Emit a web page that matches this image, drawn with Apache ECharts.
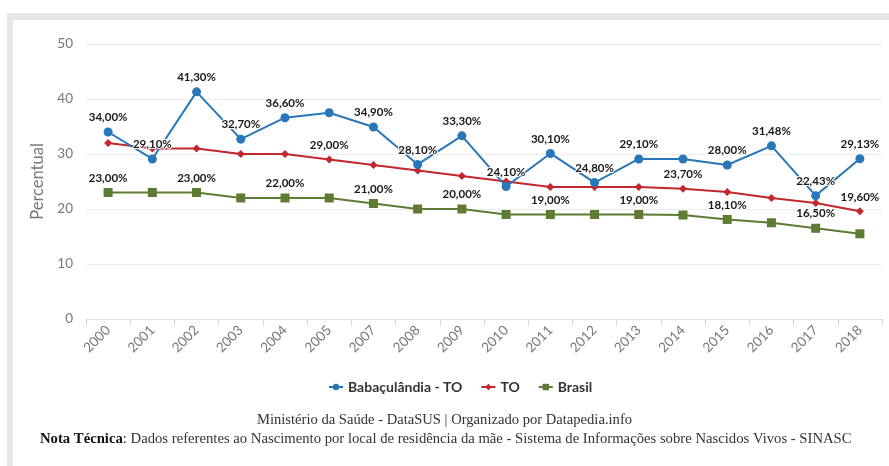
<!DOCTYPE html>
<html>
<head>
<meta charset="utf-8">
<script src="https://cdn.jsdelivr.net/npm/echarts@6/dist/echarts.min.js"></script>
<style>
  html, body { margin: 0; padding: 0; background: #fff; }
  #chart { width: 889px; height: 466px; }
</style>
</head>
<body>
<div id="chart"></div>
<script>
// anos (2006 não aparece no original)
const years = ['2000', '2001', '2002', '2003', '2004', '2005', '2007', '2008', '2009',
  '2010', '2011', '2012', '2013', '2014', '2015', '2016', '2017', '2018']

const babaculandia = [34.0, 29.1, 41.3, 32.7, 36.6, 37.5, 34.9, 28.1, 33.3,
  24.1, 30.1, 24.8, 29.1, 29.1, 28.0, 31.48, 22.43, 29.13]
const tocantins = [32.0, 31.0, 31.0, 30.0, 30.0, 29.0, 28.0, 27.0, 26.0,
  25.0, 24.0, 24.0, 24.0, 23.7, 23.1, 22.0, 21.1, 19.6]
const brasil = [23.0, 23.0, 23.0, 22.0, 22.0, 22.0, 21.0, 20.0, 20.0,
  19.0, 19.0, 19.0, 19.0, 18.9, 18.1, 17.5, 16.5, 15.5]

// índices dos pontos com rótulo visível
const babaLabels = [0, 1, 2, 3, 4, 6, 7, 8, 9, 10, 11, 12, 14, 15, 16, 17]
const toLabels = [5, 13, 17]
const brLabels = [0, 2, 4, 6, 8, 10, 12, 14, 16]

const yTicks = { min: 0, max: 50, interval: 10 }

const FONT = 'Lato, "DejaVu Sans", sans-serif'
const SERIF = '"Liberation Serif", serif'

function fmt(v) {
  return v.toFixed(2).replace('.', ',') + '%'
}

function withLabels(values, shown) {
  return values.map((v, i) => ({
    value: v,
    label: { show: shown.includes(i) }
  }))
}

const labelStyle = {
  position: 'top',
  distance: 4,
  fontFamily: FONT,
  fontSize: 11.5,
  fontWeight: 'bold',
  color: '#1a1a1a',
  textBorderColor: '#fff',
  textBorderWidth: 2,
  formatter: p => fmt(p.value)
}

const chart = echarts.init(document.getElementById('chart'))
chart.setOption({
  animation: false,
  backgroundColor: '#fff',
  textStyle: { fontFamily: FONT },
  grid: { left: 86, right: 7, top: 44, bottom: 147 },
  legend: {
    bottom: 67,
    left: 323,
    itemGap: 18,
    itemWidth: 14,
    itemHeight: 8,
    textStyle: { fontFamily: FONT, fontSize: 14, fontWeight: 'bold', color: '#333' },
    data: ['Babaçulândia - TO', 'TO', 'Brasil']
  },
  xAxis: {
    type: 'category',
    data: years,
    boundaryGap: true,
    axisLine: { lineStyle: { color: '#e0e0e0' } },
    axisTick: { show: true, length: 7, lineStyle: { color: '#d8d8d8' } },
    axisLabel: { rotate: 45, color: '#777', fontSize: 13.5, margin: 9, interval: 0 }
  },
  yAxis: {
    type: 'value',
    min: yTicks.min,
    max: yTicks.max,
    interval: yTicks.interval,
    name: 'Percentual',
    nameLocation: 'middle',
    nameGap: 35,
    nameTextStyle: { color: '#777', fontSize: 16.5 },
    axisLabel: { color: '#777', fontSize: 13.5, margin: 13 },
    splitLine: { lineStyle: { color: '#ececec' } }
  },
  series: [
    {
      name: 'Babaçulândia - TO',
      type: 'line',
      data: withLabels(babaculandia, babaLabels),
      symbol: 'circle',
      symbolSize: 9,
      color: '#2877b8',
      lineStyle: { width: 2 },
      label: labelStyle,
      z: 3
    },
    {
      name: 'TO',
      type: 'line',
      data: withLabels(tocantins, toLabels),
      symbol: 'diamond',
      symbolSize: 8,
      color: '#c1272d',
      lineStyle: { width: 2 },
      label: labelStyle,
      z: 2
    },
    {
      name: 'Brasil',
      type: 'line',
      data: withLabels(brasil, brLabels),
      symbol: 'rect',
      symbolSize: 9,
      color: '#5d7b33',
      lineStyle: { width: 2 },
      label: labelStyle,
      z: 1
    }
  ],
  graphic: [
    { type: 'rect', shape: { x: 7, y: 13, width: 882, height: 7 }, style: { fill: '#e6e6e6' }, silent: true },
    { type: 'rect', shape: { x: 7, y: 13, width: 6, height: 453 }, style: { fill: '#e6e6e6' }, silent: true },
    {
      type: 'text', left: 'center', top: 413,
      style: {
        text: 'Ministério da Saúde - DataSUS | Organizado por Datapedia.info',
        font: '14.6px ' + SERIF, fill: '#333'
      }
    },
    {
      type: 'text', left: 40, top: 432,
      style: {
        text: '{b|Nota Técnica}: Dados referentes ao Nascimento por local de residência da mãe - Sistema de Informações sobre Nascidos Vivos - SINASC',
        font: '14.7px ' + SERIF, fill: '#333',
        rich: { b: { font: 'bold 14.7px ' + SERIF, fill: '#111' } }
      }
    }
  ]
})
</script>
</body>
</html>
